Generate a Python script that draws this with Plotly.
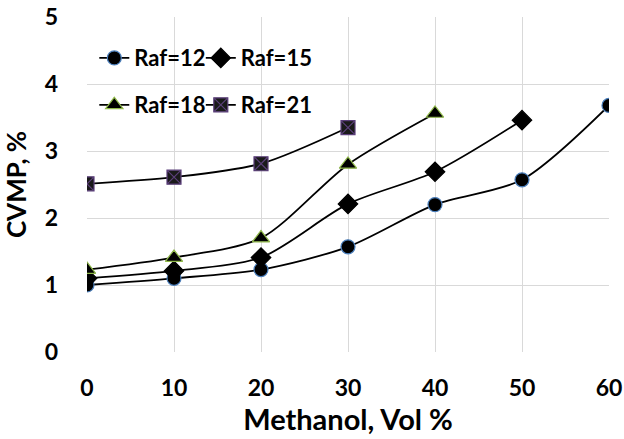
import plotly.graph_objects as go

methanol = [0, 10, 20, 30, 40, 50, 60]
raf12 = [1.0, 1.1, 1.23, 1.57, 2.2, 2.57, 3.68]
raf15 = [1.1, 1.21, 1.41, 2.21, 2.69, 3.46]
raf18 = [1.23, 1.41, 1.7, 2.8, 3.56]
raf21 = [2.51, 2.61, 2.81, 3.35]

series = [
    ("Raf=12", raf12, "circle", 14, "#000000", "#4a7ebb", "legend"),
    ("Raf=15", raf15, "diamond", 15, "#000000", "#000000", "legend2"),
    ("Raf=18", raf18, "triangle-up", 15, "#000000", "#8fb84a", "legend3"),
    ("Raf=21", raf21, "square-x", 14, "#1a1a1a", "#5b3f7a", "legend4"),
]

FONT = "Lato"
fig = go.Figure()
for name, ys, sym, size, fill, edge, leg in series:
    fig.add_trace(go.Scatter(
        x=methanol[:len(ys)], y=ys, name=name, mode="lines+markers",
        line=dict(color="black", width=1.8, shape="spline", smoothing=0.8),
        marker=dict(symbol=sym, size=size, color=fill, line=dict(color=edge, width=1.2)),
        legend=leg, showlegend=True,
    ))

legfont = dict(family=FONT, size=22, color="black", weight="bold")
common_leg = dict(orientation="h", xanchor="left", yanchor="top",
                  bgcolor="rgba(0,0,0,0)", font=legfont, itemwidth=30)
c1, c2 = 0.014, 0.218
r1, r2 = 0.94, 0.80
fig.update_layout(
    width=624, height=439,
    showlegend=True,
    margin=dict(l=87, r=15, t=17, b=87),
    paper_bgcolor="white", plot_bgcolor="white",
    font=dict(family=FONT, color="black"),
    legend=dict(x=c1, y=r1, **common_leg),
    legend2=dict(x=c2, y=r1, **common_leg),
    legend3=dict(x=c1, y=r2, **common_leg),
    legend4=dict(x=c2, y=r2, **common_leg),
    xaxis=dict(range=[0, 60], tickvals=methanol, showgrid=True, gridcolor="#d9d9d9",
               gridwidth=1, zeroline=False, showline=False, automargin=False,
               tickfont=dict(family=FONT, size=23, color="black", weight="bold"),
               ticks="", ticklabelstandoff=20,
               title=dict(text="Methanol, Vol %",
                          font=dict(family=FONT, size=29, weight="bold"), standoff=8)),
    yaxis=dict(range=[0, 5], dtick=1, showgrid=True, gridcolor="#d9d9d9",
               gridwidth=1, zeroline=False, showline=False, automargin=False,
               tickfont=dict(family=FONT, size=23, color="black", weight="bold"),
               ticks="", ticklabelstandoff=28,
               title=dict(text="CVMP, %",
                          font=dict(family=FONT, size=26, weight="bold"), standoff=14)),
)
fig.write_html("out.html", config={"displayModeBar": False},
               post_script="document.body.style.margin='0';")
